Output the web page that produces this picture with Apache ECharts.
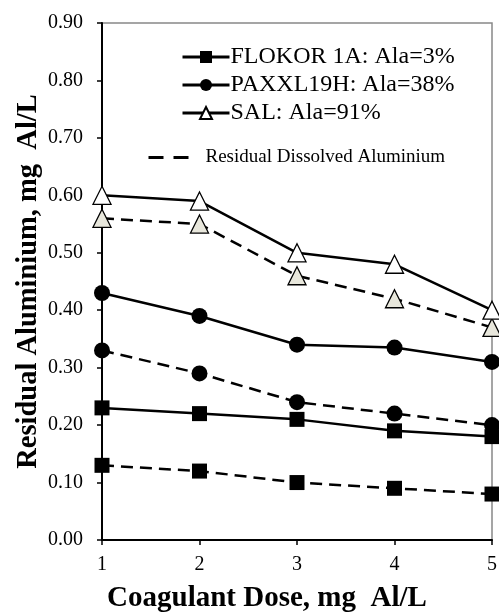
<!DOCTYPE html>
<html><head><meta charset="utf-8">
<script src="https://cdn.jsdelivr.net/npm/echarts@6/dist/echarts.min.js"></script>
<style>html,body{margin:0;padding:0;background:#fff}#c{width:499px;height:612px}</style>
</head><body><div id="c"></div>
<script>
const doses = [1, 2, 3, 4, 5];
const flokorTotal = [0.23, 0.22, 0.21, 0.19, 0.18];
const flokorDissolved = [0.13, 0.12, 0.10, 0.09, 0.08];
const paxTotal = [0.43, 0.39, 0.34, 0.335, 0.31];
const paxDissolved = [0.33, 0.29, 0.24, 0.22, 0.20];
const salTotal = [0.60, 0.59, 0.50, 0.48, 0.40];
const salDissolved = [0.56, 0.55, 0.46, 0.42, 0.37];
const yTicks = [0, 0.1, 0.2, 0.3, 0.4, 0.5, 0.6, 0.7, 0.8, 0.9];

const names = ['FLOKOR 1A: Ala=3%', 'PAXXL19H: Ala=38%', 'SAL: Ala=91%', 'Residual Dissolved Aluminium'];
const font = '"Liberation Serif", "Times New Roman", serif';
const pairs = arr => doses.map((d, i) => [d, arr[i]]);
const DASH = [12, 7];

function mk(name, arr, symbol, size, fill, dashed) {
  return {
    type: 'line', name: name, data: pairs(arr), clip: false,
    symbol: symbol, symbolSize: size, showSymbol: true,
    lineStyle: { color: '#000', width: 2.5, type: dashed ? DASH : 'solid' },
    itemStyle: { color: fill, borderColor: '#000', borderWidth: symbol === 'triangle' ? 1.3 : 0 },
    z: dashed ? 2 : 3,
    emphasis: { disabled: true }
  };
}

const chart = echarts.init(document.getElementById('c'));
chart.setOption({
  animation: false,
  backgroundColor: '#fff',
  grid: { left: 102, right: 7, top: 23, bottom: 72, show: true, borderColor: '#888', borderWidth: 1.5,
          containLabel: false, outerBoundsMode: 'none' },
  xAxis: {
    type: 'value', min: 1, max: 5, interval: 1,
    name: 'Coagulant Dose, mg  Al/L', nameLocation: 'middle', nameGap: 44, nameMoveOverlap: false,
    nameTextStyle: { fontFamily: font, fontWeight: 'bold', fontSize: 29, color: '#000', padding: [0, 60, 0, 0] },
    axisLine: { lineStyle: { color: '#000', width: 2 } },
    axisTick: { show: true, length: 5, lineStyle: { color: '#000', width: 1.5 } },
    axisLabel: { fontFamily: font, fontSize: 20, color: '#000', margin: 15 },
    splitLine: { show: false }
  },
  yAxis: {
    type: 'value', min: yTicks[0], max: yTicks[yTicks.length - 1], interval: 0.1,
    name: 'Residual Aluminium, mg  Al/L', nameLocation: 'middle', nameGap: 59, nameRotate: 90, nameMoveOverlap: false,
    nameTextStyle: { fontFamily: font, fontWeight: 'bold', fontSize: 28.5, color: '#000' },
    axisLine: { show: true, lineStyle: { color: '#000', width: 2 } },
    axisTick: { show: true, length: 5, lineStyle: { color: '#000', width: 1.5 } },
    axisLabel: { fontFamily: font, fontSize: 20, color: '#000', margin: 19, formatter: v => v.toFixed(2) },
    splitLine: { show: false }
  },
  legend: [
    {
      data: names.slice(0, 3), orient: 'vertical', left: 181, top: 45, padding: 0,
      itemWidth: 47, itemHeight: 15, itemGap: 4,
      textStyle: { fontFamily: font, fontSize: 24, color: '#000', padding: [0, 0, 0, -4] },
      lineStyle: { width: 3 },
      selectedMode: false
    },
    {
      data: [names[3]], orient: 'vertical', left: 147, top: 148, padding: 0,
      itemWidth: 40, itemHeight: 14,
      textStyle: { fontFamily: font, fontSize: 19, color: '#000', padding: [0, 0, 0, 12] },
      itemStyle: { color: 'rgba(0,0,0,0)', borderWidth: 0, opacity: 0 },
      lineStyle: { width: 3, type: [15, 10] },
      selectedMode: false
    }
  ],
  series: [
    mk(names[0], flokorTotal, 'rect', 15, '#000', false),
    mk(names[1], paxTotal, 'circle', 16, '#000', false),
    mk(names[2], salTotal, 'triangle', 18, '#fff', false),
    mk('FLOKOR dissolved', flokorDissolved, 'rect', 15, '#000', true),
    mk('PAX dissolved', paxDissolved, 'circle', 16, '#000', true),
    mk('SAL dissolved', salDissolved, 'triangle', 18, '#e8e7dc', true),
    { type: 'line', name: names[3], data: [], symbol: 'none',
      lineStyle: { color: '#000', width: 3, type: [15, 10] }, itemStyle: { color: 'rgba(0,0,0,0)' } }
  ]
});
</script></body></html>
